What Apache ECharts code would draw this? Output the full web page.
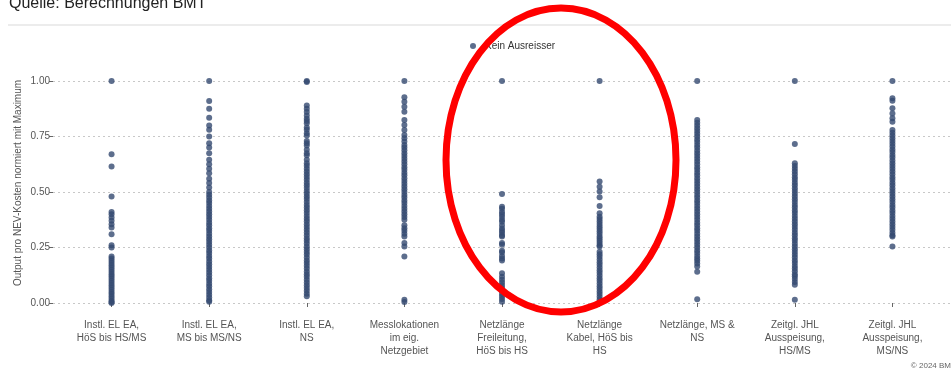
<!DOCTYPE html>
<html>
<head>
<meta charset="utf-8">
<script src="https://cdn.jsdelivr.net/npm/echarts@6/dist/echarts.min.js"></script>
<style>
html,body{margin:0;padding:0;background:#fff;}
#chart{width:951px;height:372px;}
</style>
</head>
<body>
<div id="chart"></div>
<script>
const categories = [
  "Instl. EL EA,\nHöS bis HS/MS",
  "Instl. EL EA,\nMS bis MS/NS",
  "Instl. EL EA,\nNS",
  "Messlokationen\nim eig.\nNetzgebiet",
  "Netzlänge\nFreileitung,\nHöS bis HS",
  "Netzlänge\nKabel, HöS bis\nHS",
  "Netzlänge, MS &\nNS",
  "Zeitgl. JHL\nAusspeisung,\nHS/MS",
  "Zeitgl. JHL\nAusspeisung,\nMS/NS"
];
const yTicks = [0, 0.25, 0.5, 0.75, 1];
const seriesName = "Kein Ausreisser";

const c1 = [1.00,0.67,0.615,0.48,0.41,0.40,0.385,0.37,0.355,0.34,0.31,0.26,0.25,0.21,0.20,0.19,0.18,0.17,0.16,0.15,0.14,0.13,0.12,0.11,0.10,0.09,0.08,0.07,0.06,0.05,0.04,0.03,0.02,0.01,0.005,0.0];
const c2 = [1.00,0.91,0.875,0.835,0.80,0.78,0.75,0.72,0.70,0.675,0.645,0.625,0.605,0.585,0.56,0.54,0.52,0.50,0.488,0.475,0.462,0.45,0.437,0.425,0.412,0.40,0.387,0.375,0.362,0.35,0.337,0.325,0.312,0.30,0.287,0.275,0.262,0.25,0.237,0.225,0.212,0.20,0.187,0.175,0.162,0.15,0.137,0.125,0.112,0.10,0.087,0.075,0.062,0.05,0.037,0.025,0.012,0.006];
const c3 = [1.00,0.995,0.89,0.875,0.86,0.845,0.83,0.82,0.81,0.79,0.78,0.765,0.755,0.73,0.72,0.71,0.69,0.675,0.665,0.645,0.63,0.618,0.605,0.592,0.58,0.568,0.555,0.542,0.53,0.518,0.505,0.492,0.48,0.468,0.455,0.442,0.43,0.418,0.405,0.392,0.38,0.368,0.355,0.342,0.33,0.318,0.305,0.292,0.28,0.268,0.255,0.242,0.23,0.218,0.205,0.192,0.18,0.168,0.155,0.142,0.13,0.118,0.105,0.092,0.08,0.068,0.055,0.042,0.03];
const c4 = [1.00,0.927,0.907,0.884,0.862,0.824,0.802,0.779,0.757,0.742,0.727,0.712,0.70,0.688,0.675,0.662,0.65,0.637,0.625,0.612,0.60,0.587,0.575,0.562,0.55,0.537,0.525,0.512,0.50,0.487,0.475,0.462,0.45,0.437,0.425,0.412,0.40,0.387,0.375,0.35,0.337,0.325,0.312,0.30,0.27,0.255,0.21,0.015,0.005];
const c5 = [1.00,0.491,0.434,0.425,0.41,0.40,0.389,0.375,0.366,0.35,0.336,0.325,0.317,0.305,0.299,0.27,0.262,0.235,0.228,0.212,0.20,0.191,0.134,0.118,0.105,0.092,0.08,0.068,0.055,0.042,0.03,0.018,0.006];
const c6 = [1.00,0.547,0.524,0.502,0.476,0.437,0.404,0.389,0.378,0.367,0.356,0.345,0.334,0.323,0.312,0.30,0.29,0.28,0.27,0.26,0.254,0.231,0.22,0.208,0.196,0.184,0.172,0.16,0.148,0.136,0.124,0.112,0.10,0.088,0.076,0.064,0.052,0.04,0.028,0.016,0.005];
const c7 = [1.00,0.824,0.812,0.80,0.787,0.775,0.762,0.75,0.737,0.725,0.712,0.70,0.687,0.675,0.662,0.65,0.637,0.625,0.612,0.60,0.587,0.575,0.562,0.55,0.537,0.525,0.512,0.50,0.487,0.475,0.462,0.45,0.437,0.425,0.412,0.40,0.387,0.375,0.362,0.35,0.337,0.325,0.312,0.30,0.287,0.275,0.262,0.25,0.237,0.225,0.212,0.20,0.19,0.178,0.164,0.141,0.017];
const c8 = [1.00,0.716,0.629,0.617,0.605,0.592,0.58,0.567,0.555,0.542,0.53,0.517,0.505,0.492,0.48,0.467,0.455,0.442,0.43,0.417,0.405,0.392,0.38,0.367,0.355,0.342,0.33,0.317,0.305,0.292,0.28,0.267,0.255,0.242,0.23,0.217,0.205,0.192,0.18,0.167,0.155,0.143,0.13,0.12,0.108,0.095,0.082,0.015];
const c9 = [1.00,0.922,0.911,0.877,0.854,0.832,0.817,0.779,0.767,0.755,0.742,0.73,0.717,0.705,0.692,0.68,0.667,0.655,0.642,0.63,0.617,0.605,0.592,0.58,0.567,0.555,0.542,0.53,0.517,0.505,0.492,0.48,0.467,0.455,0.442,0.43,0.417,0.405,0.392,0.38,0.367,0.355,0.342,0.33,0.317,0.305,0.299,0.254];

const columns = [c1,c2,c3,c4,c5,c6,c7,c8,c9];
const points = [];
columns.forEach((col, i) => col.forEach(v => points.push([i + 1, v])));
const catPositions = categories.map((c, i) => i + 1);

const FONT = "'Liberation Sans', Arial, sans-serif";
const chart = echarts.init(document.getElementById('chart'), null, {renderer: 'canvas'});
chart.setOption({
  animation: false,
  backgroundColor: '#ffffff',
  grid: {left: 53, top: 81, width: 902, height: 222, containLabel: false},
  legend: {
    data: [seriesName],
    left: 465, top: 36,
    icon: 'circle', itemWidth: 6, itemHeight: 6,
    textStyle: {fontFamily: FONT, fontSize: 10, color: '#333', padding: [0,0,0,4]}
  },
  xAxis: {
    type: 'value', min: 0.4, max: 9.6,
    axisLine: {show: false},
    splitLine: {show: false},
    axisTick: {show: true, customValues: catPositions, length: 4, lineStyle: {color: '#666', width: 1}},
    axisLabel: {
      customValues: catPositions,
      margin: 16,
      fontFamily: FONT, fontSize: 10, color: '#555', lineHeight: 13,
      formatter: v => categories[Math.round(v) - 1] || ''
    }
  },
  yAxis: {
    type: 'value', min: 0, max: 1, interval: 0.25,
    axisLine: {show: false},
    axisTick: {show: true, length: 4, lineStyle: {color: '#666', width: 1}},
    axisLabel: {margin: 3, fontFamily: FONT, fontSize: 10, color: '#555', formatter: v => v.toFixed(2)},
    splitLine: {show: true, lineStyle: {color: '#c8c8c8', type: [2, 3], width: 1}}
  },
  series: [{
    name: seriesName,
    type: 'scatter',
    data: points,
    symbol: 'circle',
    symbolSize: 6,
    itemStyle: {color: '#354a70'},
    clip: false
  }],
  graphic: [
    {type: 'text', left: 9, top: -4, style: {text: 'Quelle: Berechnungen BMT', font: '16px ' + FONT, fill: '#222'}},
    {type: 'line', shape: {x1: 8, y1: 25, x2: 951, y2: 25}, style: {stroke: '#e6e6e6', lineWidth: 1.5}},
    {type: 'text', x: 18, y: 183, rotation: Math.PI / 2,
      style: {text: 'Output pro NEV-Kosten normiert mit Maximum', font: '10px ' + FONT, fill: '#555', align: 'center', verticalAlign: 'middle'}},
    {type: 'text', right: 0, top: 362, style: {text: '© 2024 BM', font: '8px ' + FONT, fill: '#666'}},
    {type: 'ellipse', shape: {cx: 561, cy: 160, rx: 115, ry: 152}, style: {fill: null, stroke: '#ff0000', lineWidth: 7}, z: 100}
  ]
});
</script>
</body>
</html>
